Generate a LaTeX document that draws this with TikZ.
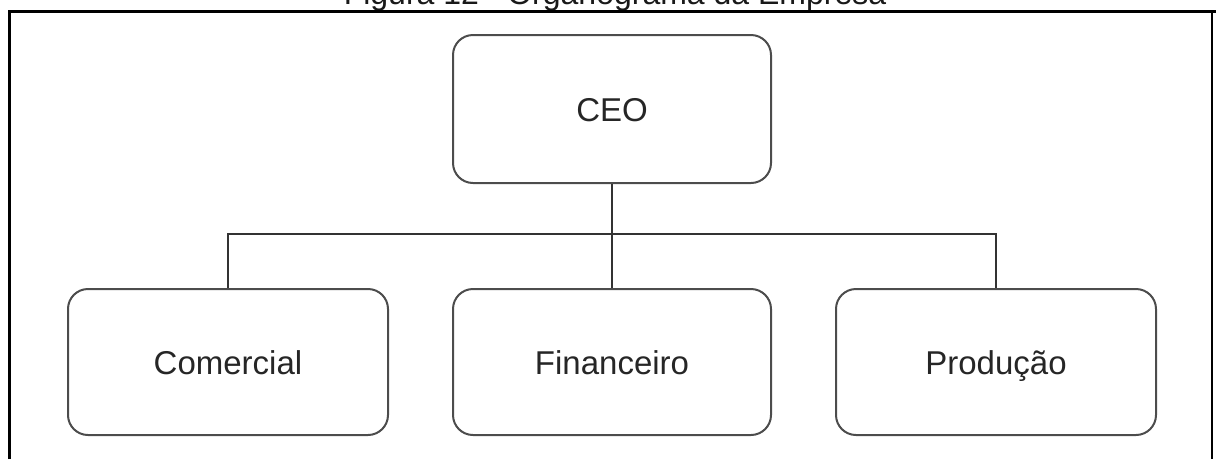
\documentclass[tikz,border=0pt]{standalone}
\usepackage{fontspec}
\setmainfont{Liberation Sans}
\begin{document}
\begin{tikzpicture}[x=1pt,y=-1pt,
  unit/.style={draw=black!70,line width=2pt,rounded corners=20pt,minimum width=318pt,minimum height=146pt,inner sep=0pt,text height=24pt,text depth=0pt,text=black!85,font=\fontsize{33}{40}\selectfont},
  link/.style={draw=black!80,line width=2pt},
  frame/.style={draw=black,line width=3pt}]
\useasboundingbox (0,0) rectangle (1216,459);
\node[anchor=base,text=black!90,font=\fontsize{32}{38}\selectfont] (title) at (615,4) {Figura 12 - Organograma da Empresa};
\draw[frame] (9.5,459) -- (9.5,11.5) -- (1216,11.5);
\draw[draw=black,line width=1.5pt] (1212,11.5) -- (1212,459);
\node[unit,minimum height=148pt] (ceo) at (612,109) {CEO};
\node[unit,minimum width=320pt] (com) at (228,362) {Comercial};
\node[unit] (fin) at (612,362) {Financeiro};
\node[unit,minimum width=320pt] (prod) at (996,362) {Produção};
\coordinate (bus) at (612,234);
\draw[link] (ceo.south) -- (fin.north);
\draw[link] (com.north) |- (bus) -| (prod.north);
\end{tikzpicture}
\end{document}
